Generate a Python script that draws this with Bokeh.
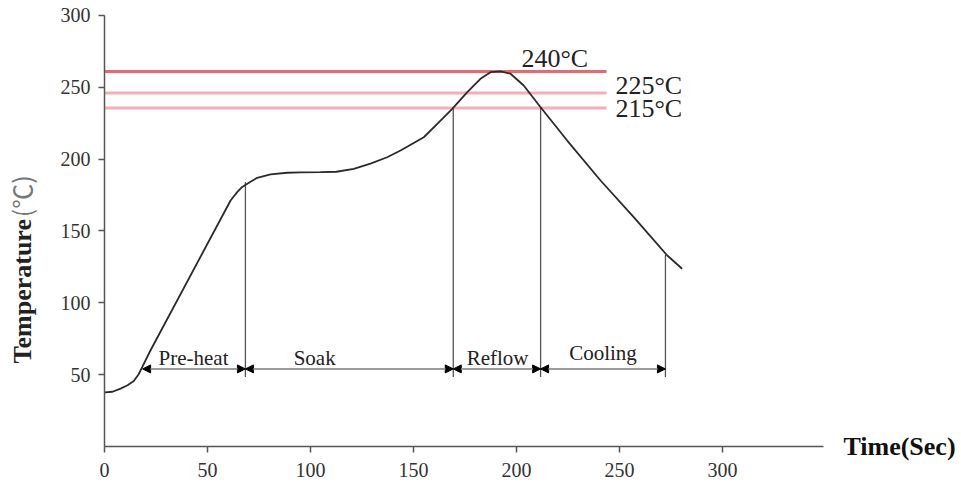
import math
from bokeh.plotting import figure
from bokeh.models import Range1d, FixedTicker, Label, Arrow, NormalHead
from bokeh.embed import file_html
from bokeh.resources import INLINE

# ---- data ----
time_s = [0, 3.9, 7.8, 11.2, 14.2, 16.5, 18.3, 22.3, 61.2, 62.9, 64.4, 66.5,
          69.3, 74.1, 80.6, 88.7, 95.1, 104.9, 112.6, 121, 129.1, 137.2,
          143.7, 155, 161.9, 168.8, 176.1, 182.5, 187.4, 192.2, 197.1, 203.5,
          211.7, 224.6, 240.8, 256.9, 273.2, 280.4]
temp_c = [37.6, 38.1, 40.3, 42.6, 45.6, 50.1, 55.2, 66.8, 171.2, 174.3, 177,
          180.2, 182.8, 187, 189.3, 190.5, 190.7, 190.9, 191.2, 193.2, 196.9,
          201.3, 206, 215.2, 225.1, 235, 246.6, 255.9, 260.5, 261, 259.4,
          251.2, 236.1, 212.9, 185.1, 159.6, 132.9, 123.7]

phase_bounds = [18.5, 68.4, 169.3, 211.7, 272.3]
bound_tops = [55, 184, 235, 236.1, 133.5]
phase_names = ["Pre-heat", "Soak", "Reflow", "Cooling"]
phase_label_x = [43.2, 102, 190.8, 242]
phase_label_y = [61.5, 61.5, 61.3, 65.3]
arrow_level = 54
bound_bottom = 48.3

ref_levels = [261, 246, 235.6]
ref_labels = ["240°C", "225°C", "215°C"]
ref_label_x = [202.4, 248, 248]
ref_label_y = [270.2, 251.3, 235.3]
ref_line_end = 243.7
ref_colors = ["#f0646e", "#f8adb2", "#f8adb2"]

x_ticks = [0, 50, 100, 150, 200, 250, 300]
y_ticks = [50, 100, 150, 200, 250, 300]
x_axis_end = 349
y_axis_end = 300

SERIF = "Liberation Serif"

p = figure(width=961, height=486, output_backend="svg", toolbar_location=None,
           x_range=Range1d(-50.49, 416.02), y_range=Range1d(-27.84, 310.37),
           min_border=0)
p.outline_line_color = None
p.grid.visible = False
p.background_fill_color = "white"
p.border_fill_color = "white"

for ax, ticks, bnd in ((p.xaxis[0], x_ticks, (0, x_axis_end)),
                       (p.yaxis[0], y_ticks, (0, y_axis_end))):
    ax.fixed_location = 0
    ax.bounds = bnd
    ax.ticker = FixedTicker(ticks=ticks)
    ax.minor_tick_line_color = None
    ax.major_tick_in = 0
    ax.major_tick_out = 6
    ax.axis_line_color = "#555555"
    ax.axis_line_width = 1.5
    ax.major_tick_line_color = "#555555"
    ax.major_tick_line_width = 1.5
    ax.major_label_text_font = SERIF
    ax.major_label_text_font_size = "20px"
    ax.major_label_text_color = "#333333"
p.xaxis.major_label_standoff = 11
p.yaxis.major_label_standoff = 8

# reference temperature lines
for lvl, col in zip(ref_levels, ref_colors):
    p.line([0, ref_line_end], [lvl, lvl], line_color=col, line_width=3)
for txt, lx, ly in zip(ref_labels, ref_label_x, ref_label_y):
    p.add_layout(Label(x=lx, y=ly, text=txt, text_font=SERIF,
                       text_font_size="26px", text_color="#222222",
                       text_baseline="alphabetic", text_align="left"))

# phase boundary lines
p.segment(x0=phase_bounds[1:], y0=[bound_bottom] * 4,
          x1=phase_bounds[1:], y1=bound_tops[1:],
          line_color="#555555", line_width=1.3)

# profile curve
p.line(time_s, temp_c, line_color="#2a2a2a", line_width=1.8)

# phase arrows
for a, b in zip(phase_bounds[:-1], phase_bounds[1:]):
    p.add_layout(Arrow(start=NormalHead(size=8, fill_color="black",
                                        line_color="black"),
                       end=NormalHead(size=8, fill_color="black",
                                      line_color="black"),
                       x_start=a, x_end=b, y_start=arrow_level,
                       y_end=arrow_level, line_color="#9a9a9a",
                       line_width=2))
for name, lx, ly in zip(phase_names, phase_label_x, phase_label_y):
    p.add_layout(Label(x=lx, y=ly, text=name, text_font=SERIF,
                       text_font_size="21px", text_color="#222222",
                       text_align="center", text_baseline="alphabetic"))

# axis titles
p.add_layout(Label(x=358.7, y=0, text="Time(Sec)", text_font=SERIF,
                   text_font_size="26px", text_font_style="bold",
                   text_color="#111111", text_baseline="alphabetic"))
p.add_layout(Label(x=-39.8, y=57.8, text="Temperature", text_font=SERIF,
                   text_font_size="26px", text_font_style="bold",
                   text_color="#222222", angle=math.pi / 2,
                   text_align="left", text_baseline="alphabetic"))
p.add_layout(Label(x=-40.5, y=159.5, text="(℃)", text_font="Noto Sans CJK SC",
                   text_font_size="25px", text_color="#777777",
                   angle=math.pi / 2, text_align="left",
                   text_baseline="alphabetic"))

open("out.html", "w").write(file_html(p, INLINE))
